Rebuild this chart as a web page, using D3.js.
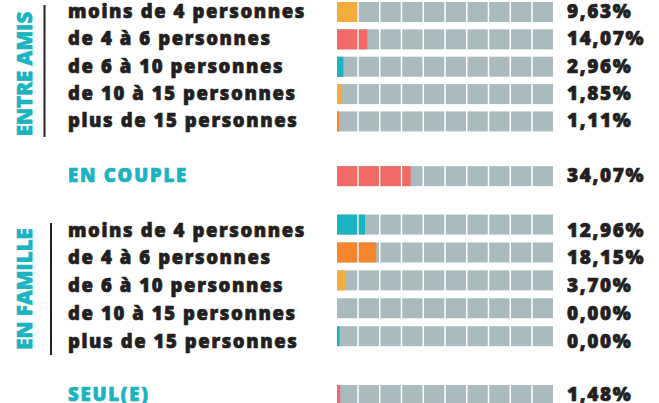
<!DOCTYPE html>
<html>
<head>
<meta charset="utf-8">
<script src="https://cdn.jsdelivr.net/npm/d3@7"></script>
<style>
  body { margin: 0; background: #fff; }
  svg { display: block; font-family: "Open Sans", sans-serif; }
</style>
</head>
<body>
<div id="chart"></div>
<script>
// rows, top to bottom
var rowLabels = [
  "moins de 4 personnes", "de 4 à 6 personnes", "de 6 à 10 personnes",
  "de 10 à 15 personnes", "plus de 15 personnes",
  "EN COUPLE",
  "moins de 4 personnes", "de 4 à 6 personnes", "de 6 à 10 personnes",
  "de 10 à 15 personnes", "plus de 15 personnes",
  "SEUL(E)"
];
var rowGroups = ["amis", "amis", "amis", "amis", "amis", "couple",
  "famille", "famille", "famille", "famille", "famille", "seul"];
var rowSlots = [0, 1, 2, 3, 4, 6, 7.77, 8.79, 9.81, 10.83, 11.85, 14];
var shares = [9.63, 14.07, 2.96, 1.85, 1.11, 34.07, 12.96, 18.15, 3.70, 0, 1.2, 1.48];
var shareLabels = ["9,63%", "14,07%", "2,96%", "1,85%", "1,11%", "34,07%",
  "12,96%", "18,15%", "3,70%", "0,00%", "0,00%", "1,48%"];
var barColors = ["#f3ad3f", "#f26a65", "#1bb3c1", "#f3ad3f", "#f5862d", "#f26a65",
  "#1bb3c1", "#f5862d", "#f3ad3f", "#f26a65", "#1bb3c1", "#f26a65"];
var cells = d3.range(10);

var width = 659,
    height = 403;

var ink = "#231f20",
    teal = "#1bb3c1";

var rows = rowLabels.map(function(label, i) {
  return { label: label, group: rowGroups[i], slot: rowSlots[i],
           share: shares[i], text: shareLabels[i], color: barColors[i] };
});

var svg = d3.select("#chart").append("svg")
  .attr("width", width)
  .attr("height", height);

var y = d3.scaleLinear().domain([0, 14]).range([2, 385]);
var x = d3.scaleLinear().domain([0, 100]).range([337, 553]);
var cellScale = d3.scaleBand().domain(cells).range([337, 553]).paddingInner(0.07);
var barHeight = 20;

function textShift(d) {
  return d.group === "famille" ? 22 : 16;
}

function isTitle(d) {
  return d.group === "couple" || d.group === "seul";
}

var row = svg.selectAll("g.row")
  .data(rows)
  .enter()
  .append("g")
    .attr("class", "row")
    .attr("transform", function(d) { return "translate(0," + y(d.slot) + ")"; });

// grey cells
row.selectAll("rect.cell")
  .data(cells)
  .enter()
  .append("rect")
    .attr("class", "cell")
    .attr("x", function(c) { return cellScale(c); })
    .attr("width", cellScale.bandwidth())
    .attr("height", barHeight)
    .attr("fill", "#aabbbd");

// coloured part, cut by the same cells
row.each(function(d) {
  var g = d3.select(this);
  var end = x(d.share);
  cells.forEach(function(c) {
    var x0 = cellScale(c),
        x1 = Math.min(x0 + cellScale.bandwidth(), end);
    if (x1 > x0) {
      g.append("rect")
        .attr("x", x0)
        .attr("width", x1 - x0)
        .attr("height", barHeight)
        .attr("fill", d.color);
    }
  });
});

row.append("text")
  .attr("x", 68)
  .attr("y", textShift)
  .attr("font-size", 18.5)
  .attr("font-weight", 800)
  .attr("letter-spacing", function(d) { return isTitle(d) ? 1.8 : 1.6; })
  .attr("fill", function(d) { return isTitle(d) ? teal : ink; })
  .attr("stroke", function(d) { return isTitle(d) ? teal : ink; })
  .attr("stroke-width", 0.7)
  .text(function(d) { return d.label; });

row.append("text")
  .attr("x", 567)
  .attr("y", textShift)
  .attr("font-size", 19)
  .attr("font-weight", 800)
  .attr("letter-spacing", 1.6)
  .attr("fill", ink)
  .attr("stroke", ink)
  .attr("stroke-width", 0.7)
  .text(function(d) { return d.text; });

// vertical group labels
var sideLabels = [
  { text: "ENTRE AMIS", cy: 74, lineX: 44.5, y0: 5, y1: 137 },
  { text: "EN FAMILLE", cy: 289, lineX: 51, y0: 223, y1: 355 }
];

svg.selectAll("text.side")
  .data(sideLabels)
  .enter()
  .append("text")
    .attr("class", "side")
    .attr("transform", function(d) { return "translate(32," + d.cy + ") rotate(-90)"; })
    .attr("text-anchor", "middle")
    .attr("font-size", 20.5)
    .attr("font-weight", 800)
    .attr("fill", teal)
    .attr("stroke", teal)
    .attr("stroke-width", 0.6)
    .text(function(d) { return d.text; });

svg.selectAll("line.side")
  .data(sideLabels)
  .enter()
  .append("line")
    .attr("class", "side")
    .attr("x1", function(d) { return d.lineX; })
    .attr("x2", function(d) { return d.lineX; })
    .attr("y1", function(d) { return d.y0; })
    .attr("y2", function(d) { return d.y1; })
    .attr("stroke", ink)
    .attr("stroke-width", 2);
</script>
</body>
</html>
